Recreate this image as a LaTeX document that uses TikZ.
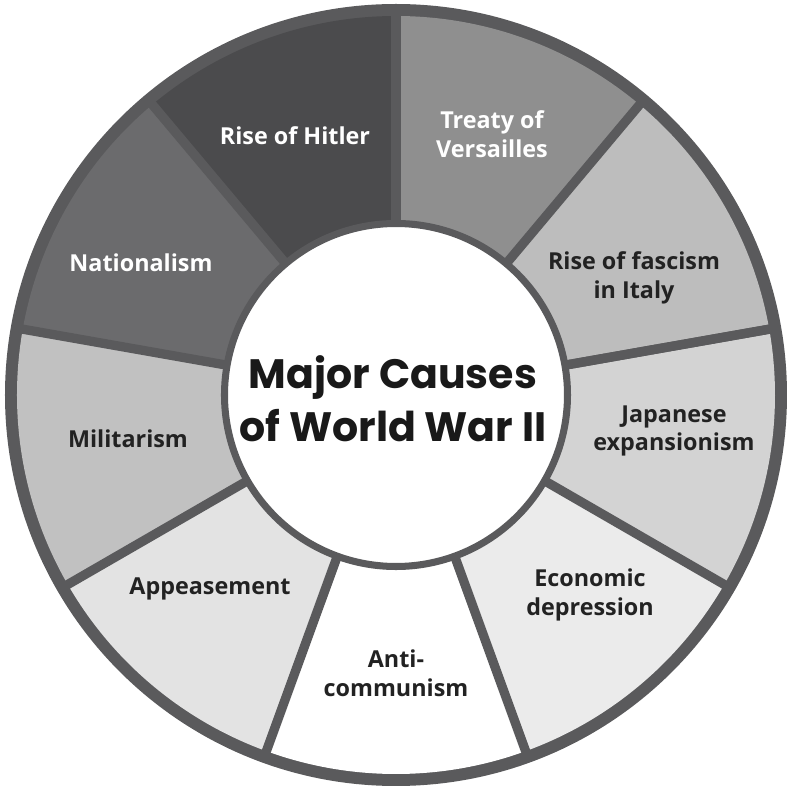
\documentclass[tikz,border=0pt]{standalone}
\usepackage{fontspec}
\usepackage{tikz}
\newfontfamily\lblfont{Open Sans}
\newfontfamily\titlefont{Poppins}
\usetikzlibrary{positioning,calc}

\definecolor{ringgray}{HTML}{5A5A5C}
\definecolor{hitlergray}{HTML}{4B4B4D}
\definecolor{natgray}{HTML}{6B6B6D}
\definecolor{milgray}{HTML}{C1C1C1}
\definecolor{appgray}{HTML}{E3E3E3}
\definecolor{ecogray}{HTML}{EBEBEB}
\definecolor{japgray}{HTML}{D3D3D3}
\definecolor{fasgray}{HTML}{BDBDBD}
\definecolor{treatygray}{HTML}{8F8F8F}
\definecolor{inkgray}{HTML}{222222}

\tikzset{
    cause/.style={align=center, text=inkgray, font=\lblfont\bfseries\fontsize{16.6}{20.5}\selectfont},
    darkcause/.style={cause, text=white},
    title/.style={align=center, text=black!90, font=\titlefont\bfseries\fontsize{29.2}{38}\selectfont}
}

\begin{document}
\begin{tikzpicture}[x=0.025cm, y=0.025cm]
    \useasboundingbox (-396,-394) rectangle (396,395);

    % Outer ring
    \fill[ringgray] (0,0) circle[radius=391];

    % Segments
    \foreach \a/\col in {90/hitlergray, 130/natgray, 170/milgray, 210/appgray, 250/white, 290/ecogray, 330/japgray, 10/fasgray, 50/treatygray}
        \fill[\col] (0,0) -- (\a:379) arc[start angle=\a, end angle=\a+40, radius=379] -- cycle;

    % Dividers
    \foreach \a in {10,50,...,370}
        \draw[ringgray, line width=6.6pt] (0,0) -- (\a:385);

    % Centre
    \draw[ringgray, fill=white, line width=5pt] (0,0) circle[radius=171.5];
    \node[title] (main) at (-3,-4) {Major Causes\\of World War II};

    % Labels
    \node[darkcause] (hitler) at (-101,259) {Rise of Hitler};
    \node[darkcause] (treaty) at (96,261) {Treaty of\\Versailles};
    \node[cause] (fascism) at (238,117) {Rise of fascism\\in Italy};
    \node[cause] (japan) at (278,-36) {Japanese\\expansionism};
    \node[cause] (depression) at (194,-200) {Economic\\depression};
    \node[cause] (anticom) at (0,-278) {Anti-\\communism};
    \node[cause] (appease) at (-186,-194) {Appeasement};
    \node[cause] (militar) at (-268,-44) {Militarism};
    \node[darkcause] (nation) at (-255,132) {Nationalism};
\end{tikzpicture}
\end{document}
